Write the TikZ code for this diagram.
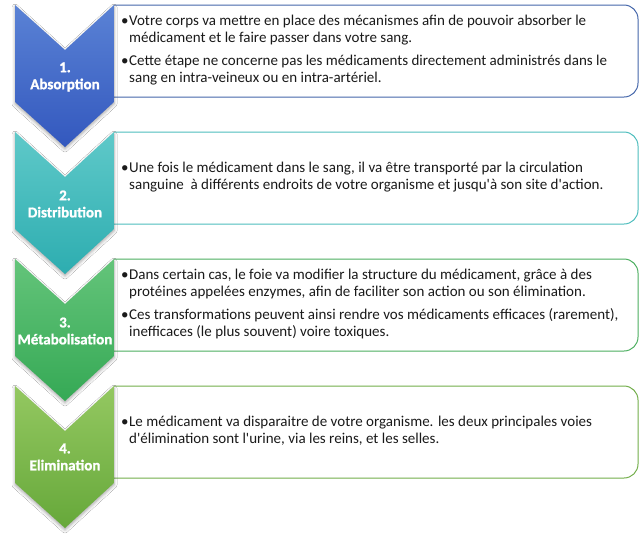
\documentclass[tikz,border=0pt]{standalone}
\usepackage{fontspec}
\setmainfont{Carlito}
\newfontfamily\cf{Carlito}
\newfontfamily\cfb{Carlito Bold}[FakeBold=1.3]
\usetikzlibrary{shadows.blur}
\definecolor{blueT}{HTML}{5A82D5}
\definecolor{blueB}{HTML}{3358BE}
\definecolor{blueL}{HTML}{4466AA}
\definecolor{tealT}{HTML}{5FC9C9}
\definecolor{tealB}{HTML}{2DADB0}
\definecolor{tealL}{HTML}{4DBDBD}
\definecolor{greenT}{HTML}{64C47A}
\definecolor{greenB}{HTML}{35A955}
\definecolor{greenL}{HTML}{4CAF60}
\definecolor{lgreenT}{HTML}{94C861}
\definecolor{lgreenB}{HTML}{66A83A}
\definecolor{lgreenL}{HTML}{72AE4A}
\definecolor{txtc}{HTML}{1A1A1A}
\newcommand\ap{\char"27\relax}
\newcommand\bul{\makebox[8pt][l]{•}}
\newcommand\ind{\hspace*{8pt}}
\tikzset{
  chevlabel/.style={text=white, font=\cfb\fontsize{15}{17}\selectfont, align=center, inner sep=0pt},
  boxtext/.style={anchor=west, align=left, text=txtc, font=\cf\fontsize{15}{17}\selectfont, inner sep=0pt},
  boxline/.style={line width=1pt, rounded corners=14pt},
  chevshade/.style={blur shadow={shadow xshift=0pt, shadow yshift=-2pt, shadow blur radius=3pt, shadow opacity=35}}
}
\newcommand\stage[4]{%
  \draw[boxline, #4] (114,#1) -- (638,#1) -- (638,#1+92) -- (114,#1+92);
  \path[chevshade, top color=#2, bottom color=#3] (15,#1) -- (65,#1+45) -- (114,#1) -- (114,#1+97) -- (65,#1+142) -- (15,#1+97) -- cycle;
}
\begin{document}
\begin{tikzpicture}[x=1pt,y=-1pt]
\useasboundingbox[fill=white] (0,0) rectangle (639,536);
\stage{5}{blueT}{blueB}{blueL}
\stage{132}{tealT}{tealB}{tealL}
\stage{259}{greenT}{greenB}{greenL}
\stage{386}{lgreenT}{lgreenB}{lgreenL}

\node[chevlabel] (l1) at (65,77) {1.\\Absorption};
\node[chevlabel] (l2) at (65,204) {2.\\Distribution};
\node[chevlabel] (l3) at (65,331) {3.\\Métabolisation};
\node[chevlabel] (l4) at (65,457) {4.\\Elimination};

\node[boxtext] (t1) at (121,50) {\bul Votre corps va mettre en place des mécanismes afin de pouvoir absorber le\\
\ind médicament et le faire passer dans votre sang.\\[6pt]
\bul Cette étape ne concerne pas les médicaments directement administrés dans le\\
\ind sang en intra-veineux ou en intra-artériel.};
\node[boxtext] (t2) at (121,177) {\bul Une fois le médicament dans le sang, il va être transporté par la circulation\\
\ind sanguine\ \ à différents endroits de votre organisme et jusqu\ap à son site d\ap action.};
\node[boxtext] (t3) at (121,304) {\bul Dans certain cas, le foie va modifier la structure du médicament, grâce à des\\
\ind protéines appelées enzymes, afin de faciliter son action ou son élimination.\\[6pt]
\bul Ces transformations peuvent ainsi rendre vos médicaments efficaces (rarement),\\
\ind inefficaces (le plus souvent) voire toxiques.};
\node[boxtext] (t4) at (121,431) {\bul Le médicament va disparaitre de votre organisme. les deux principales voies\\
\ind d\ap élimination sont l\ap urine, via les reins, et les selles.};
\end{tikzpicture}
\end{document}
